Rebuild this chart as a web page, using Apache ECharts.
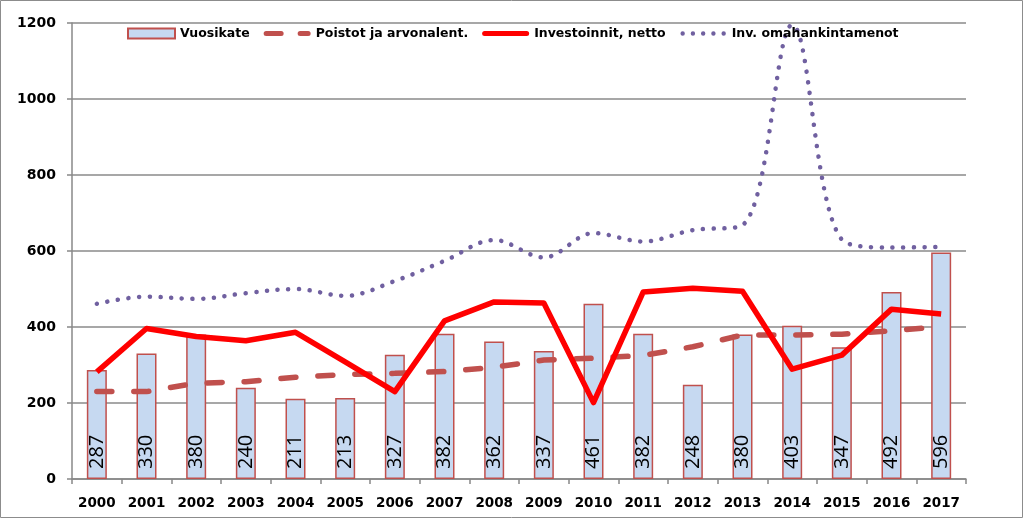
<!DOCTYPE html>
<html>
<head>
<meta charset="utf-8">
<script src="https://cdn.jsdelivr.net/npm/echarts@6/dist/echarts.min.js"></script>
<style>
html,body{margin:0;padding:0;background:#fff;}
#chart{width:1023px;height:518px;}
</style>
</head>
<body>
<div id="chart"></div>
<script>
const years = ['2000','2001','2002','2003','2004','2005','2006','2007','2008','2009','2010','2011','2012','2013','2014','2015','2016','2017'];
const vuosikate = [287,330,380,240,211,213,327,382,362,337,461,382,248,380,403,347,492,596];
const poistot = [230,230,252,256,268,275,278,283,294,313,318,325,348,379,379,381,390,401];
const investoinnit = [282,396,375,364,386,308,230,416,466,463,201,492,502,494,289,326,447,434];
const omahankinta = [461,480,474,489,500,482,521,574,629,583,647,625,655,668,1195,630,609,611];
const yTicks = [0,200,400,600,800,1000,1200];

function dash(x1, x2){
  return 'M'+(x1+2.5)+',2.5 L'+(x2-2.5)+',2.5 A2.5,2.5 0 0 1 '+(x2-2.5)+',7.5 L'+(x1+2.5)+',7.5 A2.5,2.5 0 0 1 '+(x1+2.5)+',2.5 Z ';
}
function dot(cx, r){
  return 'M'+(cx-r)+',5 A'+r+','+r+' 0 1 0 '+(cx+r)+',5 A'+r+','+r+' 0 1 0 '+(cx-r)+',5 Z ';
}
const box = 'M0,0 M47,10 ';
const iconDashed = 'path://' + box + dash(0,20) + dash(34,47);
const iconSolid = 'path://' + box + dash(0,47);
const iconDots = 'path://' + box + dot(3,2.2) + dot(13.25,2.2) + dot(23.5,2.2) + dot(33.75,2.2) + dot(44,2.2);

const chart = echarts.init(document.getElementById('chart'), null, {renderer:'canvas'});
const axisFont = 'DejaVu Sans';
chart.setOption({
  animation:false,
  backgroundColor:'#ffffff',
  graphic:[{type:'rect',shape:{x:0.5,y:0.5,width:1022,height:517},style:{fill:'none',stroke:'#8c8c8c',lineWidth:1},silent:true,z:100}],
  legend:{
    left:122, top:22, itemWidth:47, itemHeight:10, itemGap:14,
    textStyle:{fontFamily:axisFont,fontWeight:'bold',fontSize:12.5,color:'#000'},
    data:[
      {name:'Vuosikate', icon:'rect'},
      {name:'Poistot ja arvonalent.', icon:iconDashed, itemStyle:{color:'#c0504d',borderWidth:0}},
      {name:'Investoinnit, netto', icon:iconSolid, itemStyle:{color:'#ff0000',borderWidth:0}},
      {name:'Inv. omahankintamenot', icon:iconDots, itemStyle:{color:'#7060a0',borderWidth:0}}
    ]
  },
  grid:{left:72,right:57,top:23,bottom:39,containLabel:false},
  xAxis:{
    type:'category', data:years, boundaryGap:true,
    axisLine:{lineStyle:{color:'#888',width:1.5}},
    axisTick:{show:true,length:5,lineStyle:{color:'#888',width:1.5}},
    axisLabel:{fontFamily:axisFont,fontWeight:'bold',fontSize:13.5,color:'#000',margin:17}
  },
  yAxis:{
    type:'value', min:yTicks[0], max:yTicks[yTicks.length-1], interval:200,
    axisLine:{show:true,lineStyle:{color:'#888',width:1.5}},
    axisTick:{show:true,length:5,lineStyle:{color:'#888',width:1.5}},
    splitLine:{lineStyle:{color:'#8a8a8a',width:1.5}},
    axisLabel:{fontFamily:axisFont,fontWeight:'bold',fontSize:14,color:'#000',margin:16,formatter:function(v){return String(v);}}
  },
  series:[
    {
      name:'Vuosikate', type:'bar', data:vuosikate, barWidth:20,
      itemStyle:{color:'#c6d9f1',borderColor:'#c0504d',borderWidth:1.5},
      label:{show:true,position:'insideBottom',rotate:90,align:'left',verticalAlign:'middle',distance:10,
        fontFamily:'Open Sans',fontSize:20,color:'#000'},
      z:1
    },
    {
      name:'Poistot ja arvonalent.', type:'line', data:poistot, symbol:'none', showSymbol:false,
      lineStyle:{color:'#c0504d',width:5.5,type:[15,22],cap:'round'},
      itemStyle:{color:'#c0504d'}, z:3
    },
    {
      name:'Investoinnit, netto', type:'line', data:investoinnit, symbol:'none', showSymbol:false,
      lineStyle:{color:'#ff0000',width:5.5,join:'round'},
      itemStyle:{color:'#ff0000'}, z:4
    },
    {
      name:'Inv. omahankintamenot', type:'line', data:omahankinta, symbol:'none', showSymbol:false, smooth:0.35,
      lineStyle:{color:'#7060a0',width:4.5,type:[0.1,10.6],cap:'round'},
      itemStyle:{color:'#7060a0'}, z:2
    }
  ]
});
</script>
</body>
</html>
